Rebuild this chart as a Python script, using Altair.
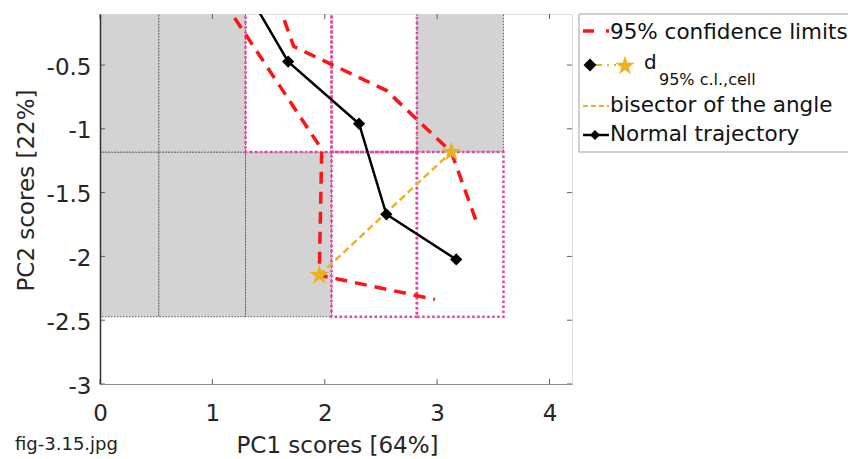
import altair as alt
import pandas as pd

# Normal trajectory in the PC1/PC2 score plane
traj_pc1 = [1.36, 1.674, 2.305, 2.548, 3.17]
traj_pc2 = [0.0, -0.473, -0.96, -1.67, -2.024]

# 95% confidence limits around the trajectory
upper_pc1 = [1.58, 1.724, 2.55, 3.126, 3.351]
upper_pc2 = [0.0, -0.355, -0.70, -1.182, -1.732]
lower_pc1 = [1.10, 1.973, 1.951, 2.98]
lower_pc2 = [0.0, -1.161, -2.147, -2.337]

# d_95% c.l.,cell end points, joined by the bisector of the angle
star_pc1 = [1.951, 3.126]
star_pc2 = [-2.147, -1.182]

# Cell grid over the score plane
cell_x_edges = [-0.24, 0.524, 1.295, 2.06, 2.82, 3.59]
cell_y_edges = [-2.473, -1.182, 0.11]
gray_cells = [(0, 0), (1, 0), (2, 0), (0, 1), (1, 1), (4, 1)]   # (column, row)
open_cells = [(2, 1), (3, 1), (3, 0), (4, 0)]

x_ticks = [0, 1, 2, 3, 4]
y_ticks = [-3, -2.5, -2, -1.5, -1, -0.5]

FONT = "DejaVu Sans"
RED = "#ff1414"
GOLD = "#EDB120"
MAGENTA = "#e8449f"

# five-pointed star symbol (unit box)
STAR = ("M0,-1L0.2245,-0.309L0.951,-0.309L0.363,0.118L0.588,0.809L0,0.382"
        "L-0.588,0.809L-0.363,0.118L-0.951,-0.309L-0.2245,-0.309Z")

W, H = 472, 370


def cells(idx):
    return pd.DataFrame(
        [{"x": cell_x_edges[c], "x2": cell_x_edges[c + 1],
          "y": cell_y_edges[r], "y2": cell_y_edges[r + 1]} for c, r in idx]
    )


xs = alt.Scale(domain=[0, 4.2], nice=False, zero=False)
ys = alt.Scale(domain=[-3, -0.1], nice=False, zero=False)

# plain number labels with an ASCII hyphen as minus sign
plain_label = "'' + datum.value"

x_axis = alt.Axis(
    values=x_ticks, title="PC1 scores [64%]", grid=False, ticks=False, tickSize=0,
    labelFont=FONT, labelFontSize=23, labelColor="#262626", labelPadding=36,
    labelBaseline="alphabetic", labelExpr=plain_label, labelFlush=False,
    titleFont=FONT, titleFontSize=23, titleColor="#262626", titleFontWeight="normal",
    titleX=237, titleY=68, titleBaseline="alphabetic", titleAlign="center",
    domainColor="#909090", domainWidth=1, zindex=1,
)
y_axis = alt.Axis(
    values=y_ticks, title="PC2 scores [22%]", grid=False, ticks=False, tickSize=0,
    labelFont=FONT, labelFontSize=23, labelColor="#262626", labelPadding=9,
    labelOffset=2, labelExpr=plain_label, labelFlush=False,
    titleFont=FONT, titleFontSize=23, titleColor="#262626", titleFontWeight="normal",
    titleX=-74, titleY=176, titleBaseline="middle", titleAlign="center", titleAngle=270,
    domainColor="#303030", domainWidth=1.5, zindex=1,
)


def X(field="x"):
    return alt.X(f"{field}:Q", scale=xs, axis=x_axis)


def Y(field="y"):
    return alt.Y(f"{field}:Q", scale=ys, axis=y_axis)


gray = alt.Chart(cells(gray_cells)).mark_rect(
    fill="#d3d3d3", stroke="#5a5a5a", strokeWidth=1, strokeDash=[1.5, 1.5], clip=True
).encode(x=X(), x2="x2:Q", y=Y(), y2="y2:Q")

open_ = alt.Chart(cells(open_cells)).mark_rect(
    fillOpacity=0, stroke=MAGENTA, strokeWidth=2.5, strokeDash=[2.5, 2.5], clip=True
).encode(x=X(), x2="x2:Q", y=Y(), y2="y2:Q")

limits_df = pd.concat([
    pd.DataFrame({"x": upper_pc1, "y": upper_pc2, "g": "upper", "o": list(range(len(upper_pc1)))}),
    pd.DataFrame({"x": lower_pc1, "y": lower_pc2, "g": "lower", "o": list(range(len(lower_pc1)))}),
])
limits = alt.Chart(limits_df).mark_line(
    color=RED, strokeWidth=3.5, strokeDash=[12, 8], clip=True
).encode(x=X(), y=Y(), detail="g:N", order="o:Q")

traj_df = pd.DataFrame({"x": traj_pc1, "y": traj_pc2, "o": list(range(len(traj_pc1)))})
traj = alt.Chart(traj_df).mark_line(color="black", strokeWidth=2.5, clip=True).encode(
    x=X(), y=Y(), order="o:Q"
)
diamonds = alt.Chart(traj_df).mark_point(
    shape="diamond", filled=True, color="black", size=150, opacity=1, clip=True
).encode(x=X(), y=Y())

star_df = pd.DataFrame({"x": star_pc1, "y": star_pc2})
bisector = alt.Chart(star_df).mark_line(
    color=GOLD, strokeWidth=2.5, strokeDash=[7, 4], clip=True
).encode(x=X(), y=Y())
stars = alt.Chart(star_df).mark_point(
    shape=STAR, filled=True, color=GOLD, size=440, opacity=1, clip=True
).encode(x=X(), y=Y())

# Inward tick marks on all four sides of the box
xt = pd.DataFrame({"x": x_ticks})
yt = pd.DataFrame({"y": y_ticks})
tick_style = dict(color="#606060", strokeWidth=1)
ticks = [
    alt.Chart(xt).mark_rule(**tick_style).encode(x=X(), y=alt.value(H), y2=alt.value(H - 5)),
    alt.Chart(xt).mark_rule(**tick_style).encode(x=X(), y=alt.value(0), y2=alt.value(5)),
    alt.Chart(yt).mark_rule(**tick_style).encode(y=Y(), x=alt.value(0), x2=alt.value(5)),
    alt.Chart(yt).mark_rule(**tick_style).encode(y=Y(), x=alt.value(W), x2=alt.value(W - 5)),
]

# Legend box and entries
one = pd.DataFrame({"k": [0]})
leg_box = alt.Chart(one).mark_rect(fill="white", stroke="#a0a0a0", strokeWidth=1).encode(
    x=alt.value(479), x2=alt.value(800), y=alt.value(0), y2=alt.value(138)
)
leg_red = alt.Chart(one).mark_rule(color=RED, strokeWidth=3.5, strokeDash=[11, 12]).encode(
    x=alt.value(483), x2=alt.value(509), y=alt.value(17)
)
leg_gold_dd = alt.Chart(one).mark_rule(color=GOLD, strokeWidth=2, strokeDash=[6, 5, 2, 5]).encode(
    x=alt.value(496), x2=alt.value(516), y=alt.value(51)
)
leg_diamond2 = alt.Chart(one).mark_point(shape="diamond", filled=True, color="black", size=170, opacity=1).encode(
    x=alt.value(490), y=alt.value(51)
)
leg_star = alt.Chart(one).mark_point(shape=STAR, filled=True, color=GOLD, size=420, opacity=1).encode(
    x=alt.value(525), y=alt.value(52)
)
leg_gold = alt.Chart(one).mark_rule(color=GOLD, strokeWidth=2, strokeDash=[5, 3]).encode(
    x=alt.value(483), x2=alt.value(509), y=alt.value(92)
)
leg_black = alt.Chart(one).mark_rule(color="black", strokeWidth=2.5).encode(
    x=alt.value(483), x2=alt.value(509), y=alt.value(121)
)
leg_diamond4 = alt.Chart(one).mark_point(shape="diamond", filled=True, color="black", size=100, opacity=1).encode(
    x=alt.value(495), y=alt.value(121)
)


def label(txt, x, y, size):
    return alt.Chart(one).mark_text(
        text=txt, align="left", baseline="alphabetic", font=FONT, fontSize=size, color="#111111"
    ).encode(x=alt.value(x), y=alt.value(y))


leg_texts = [
    label("95% confidence limits", 510, 25, 21.5),
    label("d", 544, 55, 20),
    label("95% c.l.,cell", 559, 71, 16),
    label("bisector of the angle", 510, 98, 21.5),
    label("Normal trajectory", 510, 127, 21.5),
]

caption = alt.Chart(one).mark_text(
    text="fig-3.15.jpg", align="left", baseline="alphabetic", font=FONT, fontSize=18, color="#222222"
).encode(x=alt.value(-85), y=alt.value(436))

chart = alt.layer(
    gray, open_, limits, traj, bisector, diamonds, stars, *ticks,
    leg_box, leg_red, leg_gold_dd, leg_diamond2, leg_star, leg_gold, leg_black, leg_diamond4,
    *leg_texts, caption,
).properties(
    width=W, height=H,
    autosize=alt.AutoSizeParams(type="none"),
    padding={"left": 100, "top": 14, "right": 276, "bottom": 75},
).configure_view(stroke="#a0a0a0", strokeWidth=1).configure(background="white")

chart.save("out.html", embed_options={"renderer": "svg", "actions": False})
